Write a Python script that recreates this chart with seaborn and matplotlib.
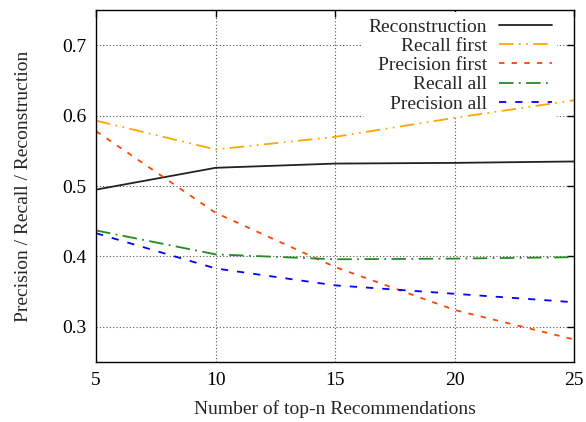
import matplotlib
matplotlib.use("Agg")
import matplotlib.pyplot as plt
import seaborn as sns
import pandas as pd

top_n = [5, 10, 15, 20, 25]
reconstruction = [0.495, 0.526, 0.532, 0.533, 0.535]
recall_first = [0.593, 0.552, 0.570, 0.597, 0.622]
precision_first = [0.578, 0.462, 0.385, 0.324, 0.282]
recall_all = [0.437, 0.403, 0.396, 0.397, 0.399]
precision_all = [0.433, 0.383, 0.359, 0.347, 0.335]

series = [
    ("Reconstruction", reconstruction, "#222222", (None, None)),
    ("Recall first", recall_first, "#ffa500", (8, 3, 1, 3, 1, 3)),
    ("Precision first", precision_first, "#ff4500", (3, 4)),
    ("Recall all", recall_all, "#228b22", (8, 3, 1, 3)),
    ("Precision all", precision_all, "#0000ff", (4, 5)),
]

sns.set_style("white")
plt.rcParams['font.family'] = ['Liberation Serif', 'DejaVu Serif']

fig = plt.figure(figsize=(5.86, 4.22), dpi=100)
ax = fig.add_axes([0.164, 0.142, 0.816, 0.834])

for name, vals, color, dash in series:
    df = pd.DataFrame({"x": top_n, "y": vals})
    sns.lineplot(data=df, x="x", y="y", ax=ax, color=color, lw=1.3, label=name, zorder=3)
    line = ax.lines[-1]
    if dash[0] is not None:
        line.set_dashes(dash)

ax.set_xlim(5, 25)
ax.set_ylim(0.25, 0.75)
ax.set_xticks([5, 10, 15, 20, 25])
ax.set_yticks([0.3, 0.4, 0.5, 0.6, 0.7])
ax.set_yticklabels(["0.3", "0.4", "0.5", "0.6", "0.7"])
ax.set_axisbelow(True)
ax.grid(True, color="#555555", linestyle=(0, (1, 2)), linewidth=0.8)
ax.tick_params(direction="in", length=5, width=1, top=True, right=True,
               labelsize=14, colors="black", pad=7)
for sp in ax.spines.values():
    sp.set_color("black")
    sp.set_linewidth(1)
    sp.set_zorder(4)

ax.set_xlabel("Number of top-n Recommendations", fontsize=14, labelpad=8)
ax.set_ylabel("Precision / Recall / Reconstruction", fontsize=14, labelpad=22)

leg = ax.legend(loc="upper right", bbox_to_anchor=(0.985, 1.021), markerfirst=False,
                frameon=True, fontsize=14, handlelength=2.7, labelspacing=0.08,
                borderpad=0.3, handletextpad=0.6)
leg.get_frame().set_facecolor("white")
leg.get_frame().set_edgecolor("none")
leg.get_frame().set_alpha(1)
leg.set_zorder(2)
for t in leg.get_texts():
    t.set_ha("right")
leg._legend_box.align = "right"

fig.savefig("out.png", dpi=100)
